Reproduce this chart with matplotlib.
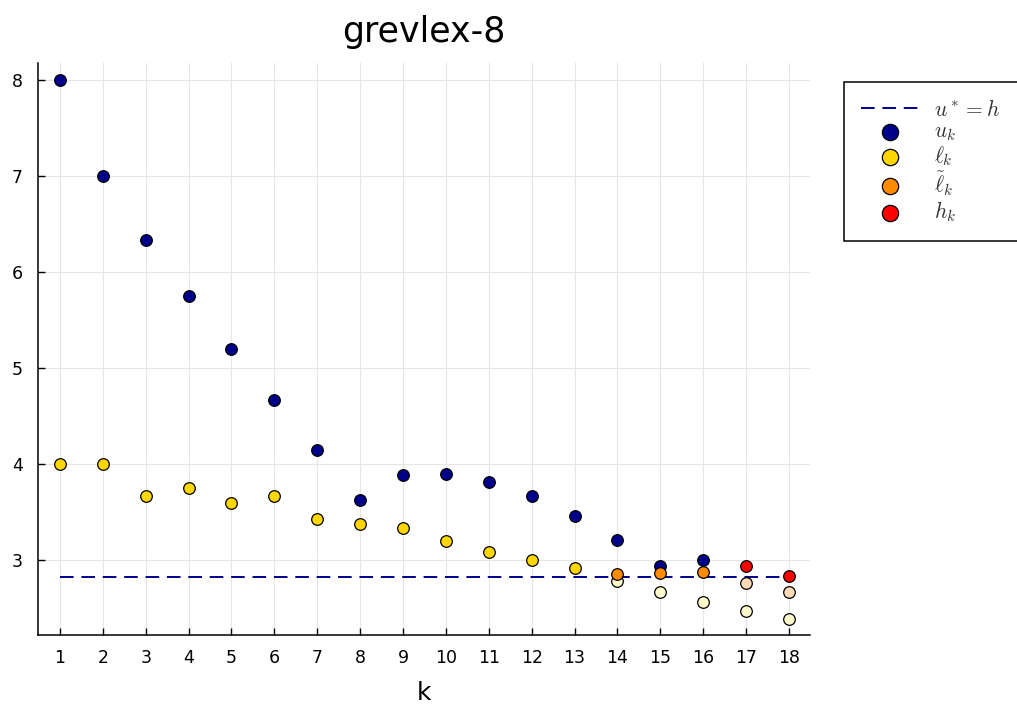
import matplotlib
matplotlib.use("Agg")
import matplotlib.pyplot as plt

plt.rcParams['mathtext.fontset'] = 'cm'

# data
k = list(range(1, 19))
h_star = 2.828
u_k = [8.0, 7.0, 6.333, 5.75, 5.2, 4.667, 4.146, 3.625, 3.885, 3.896,
       3.8125, 3.667, 3.458, 3.208, 2.9375, 3.0]
l_k = [4.0, 4.0, 3.667, 3.75, 3.6, 3.667, 3.427, 3.375, 3.333, 3.198,
       3.083, 3.0, 2.917]
l_k_faded = [2.78, 2.667, 2.56, 2.47, 2.39]
lt_k = [2.86, 2.868, 2.875]
lt_k_faded = [2.76, 2.667]
h_k = [2.94, 2.833]

fig = plt.figure(figsize=(10.17, 7.07), dpi=100)
ax = fig.add_axes([0.0374, 0.1018, 0.7591, 0.8091])

ms = 70
ax.plot([k[0], k[-1]], [h_star, h_star], ls=(0, (7, 4)), color='#00008B',
        lw=1.4, label=r'$u^*=h$', zorder=2)
ax.scatter(k[:len(u_k)], u_k, s=ms, c='#00008B', edgecolors='black',
           linewidths=0.9, label=r'$u_k$', zorder=3)
ax.scatter(k[:len(l_k)], l_k, s=ms, c='#FFD700', edgecolors='black',
           linewidths=0.9, label=r'$\ell_k$', zorder=3)
ax.scatter(k[len(l_k):], l_k_faded, s=ms, c='#FFFACD', edgecolors='black',
           linewidths=0.9, zorder=3)
ax.scatter(k[13:16], lt_k, s=ms, c='#FF8C00', edgecolors='black',
           linewidths=0.9, label=r'$\tilde{\ell}_k$', zorder=4)
ax.scatter(k[16:], lt_k_faded, s=ms, c='#FFDAB9', edgecolors='black',
           linewidths=0.9, zorder=4)
ax.scatter(k[16:], h_k, s=ms, c='#FF0000', edgecolors='black',
           linewidths=0.9, label=r'$h_k$', zorder=5)

ax.set_xlim(0.49, 18.49)
ax.set_ylim(2.22, 8.18)
ax.set_xticks(k)
ax.set_yticks([3, 4, 5, 6, 7, 8])
ax.tick_params(direction='in', length=5, width=1, labelsize=12.5)
ax.tick_params(axis='x', pad=10)
ax.tick_params(axis='y', pad=11)
ax.grid(True, color='#e6e6e6', lw=0.8)
ax.set_axisbelow(True)
for s in ['top', 'right']:
    ax.spines[s].set_visible(False)
for s in ['left', 'bottom']:
    ax.spines[s].set_linewidth(1.1)

ax.set_title('grevlex-8', fontsize=25, pad=15)
ax.set_xlabel('k', fontsize=18, labelpad=10)

leg = fig.legend(loc='upper left', bbox_to_anchor=(0.83, 0.66, 0.2, 0.224),
                 mode='expand', fontsize=15.5, handlelength=2.7,
                 labelspacing=0.07, borderpad=0.78, fancybox=False,
                 edgecolor='black', framealpha=1, markerscale=1.4,
                 borderaxespad=0, handletextpad=0.7)
leg.get_frame().set_linewidth(1.1)
for t in leg.get_texts():
    t.set_color('#333333')

fig.savefig('out.png', dpi=100)
